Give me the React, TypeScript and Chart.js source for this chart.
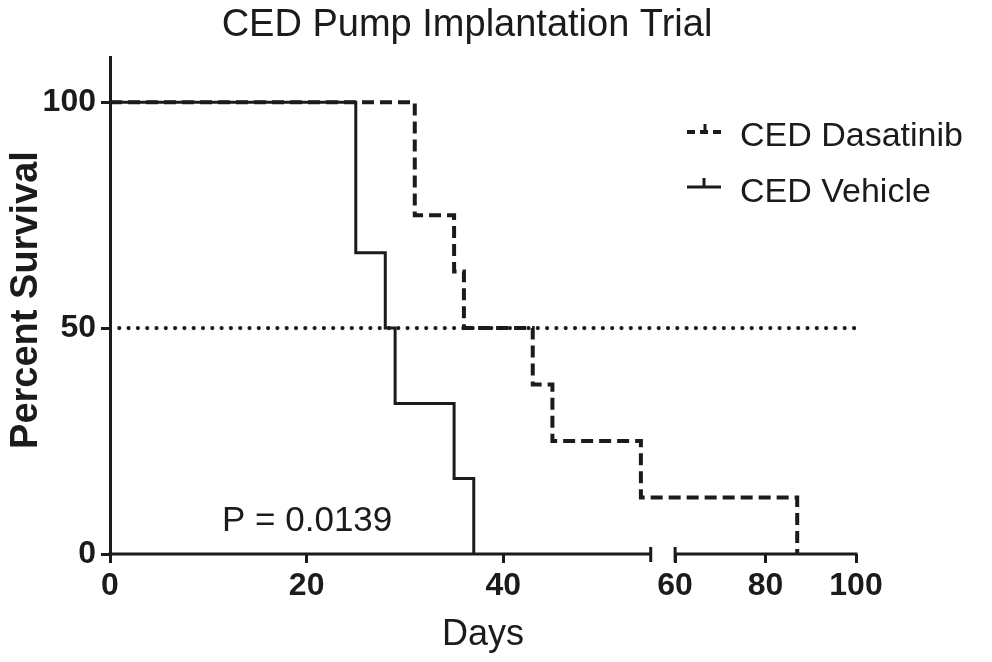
import React, { useEffect, useRef } from "react";
import { Chart, registerables } from "chart.js";

Chart.register(...registerables);

// ---- data (days, percent survival) ----
const vehicleDays = [0, 25, 28, 29, 35, 37];
const vehicleSurvival = [100, 66.7, 50, 33.3, 16.7, 0];
const dasatinibDays = [0, 31, 35, 36, 43, 45, 54, 87];
const dasatinibSurvival = [100, 75, 62.5, 50, 37.5, 25, 12.5, 0];
const xTickDays = [0, 20, 40, 60, 80, 100];
const yTickValues = [0, 50, 100];
const medianLevel = 50;
const seriesNames = ["CED Dasatinib", "CED Vehicle"];
const pValueText = "P = 0.0139";

// ---- broken x axis definition ----
const BREAK_FROM = 55;
const BREAK_TO = 60;
const BREAK_GAP = 2.48;
const SQUEEZE = 0.46;
const X_MAX_DAY = 100;
const Y_MAX = 110;

function toAxis(day: number): number {
  return day <= BREAK_FROM ? day : BREAK_FROM + BREAK_GAP + (day - BREAK_TO) * SQUEEZE;
}

const FONT = '"Liberation Sans", Arial, Helvetica, sans-serif';
const INK = "#1b1b1b";

export default function App() {
  const ref = useRef<HTMLCanvasElement>(null);

  useEffect(() => {
    const canvas = ref.current;
    if (!canvas) return;

    const overlay = {
      id: "overlay",
      afterDraw(chart: any) {
        const ctx = chart.ctx as CanvasRenderingContext2D;
        const xs = chart.scales.x;
        const area = chart.chartArea;
        const bottom = area.bottom;
        ctx.save();
        ctx.strokeStyle = INK;
        ctx.fillStyle = INK;
        ctx.lineWidth = 3;
        ctx.lineCap = "butt";
        // x axis line with break
        const p0 = xs.getPixelForValue(toAxis(0));
        const pA = xs.getPixelForValue(toAxis(BREAK_FROM));
        const pB = xs.getPixelForValue(toAxis(BREAK_TO));
        const pEnd = xs.getPixelForValue(toAxis(X_MAX_DAY));
        ctx.beginPath();
        ctx.moveTo(p0 - 1.5, bottom);
        ctx.lineTo(pA, bottom);
        ctx.moveTo(pB, bottom);
        ctx.lineTo(pEnd + 1.5, bottom);
        ctx.stroke();
        ctx.beginPath();
        ctx.moveTo(pA, bottom - 7);
        ctx.lineTo(pA, bottom + 8);
        ctx.moveTo(pB, bottom - 7);
        ctx.lineTo(pB, bottom + 8);
        ctx.stroke();

        // Title
        ctx.textAlign = "center";
        ctx.textBaseline = "alphabetic";
        ctx.font = `38px ${FONT}`;
        ctx.fillText("CED Pump Implantation Trial", 459, 28);

        // x axis title
        ctx.font = `36px ${FONT}`;
        ctx.fillText("Days", (area.left + area.right) / 2, 637);

        // y axis title
        ctx.save();
        ctx.translate(29, 292);
        ctx.rotate(-Math.PI / 2);
        ctx.font = `bold 38px ${FONT}`;
        ctx.fillText("Percent Survival", 0, 0);
        ctx.restore();

        // P value
        ctx.textAlign = "left";
        ctx.font = `35px ${FONT}`;
        ctx.fillText(pValueText, 214, 523);

        // Legend
        ctx.font = `34px ${FONT}`;
        ctx.fillText(seriesNames[0], 732, 138);
        ctx.fillText(seriesNames[1], 732, 194);
        // dasatinib symbol
        const ly1 = 124;
        ctx.lineWidth = 4;
        ctx.setLineDash([8, 5]);
        ctx.beginPath();
        ctx.moveTo(679, ly1);
        ctx.lineTo(713, ly1);
        ctx.stroke();
        ctx.setLineDash([]);
        ctx.lineWidth = 3;
        ctx.beginPath();
        ctx.moveTo(697, ly1 - 8);
        ctx.lineTo(697, ly1);
        ctx.stroke();
        // vehicle symbol
        const ly2 = 179;
        ctx.beginPath();
        ctx.moveTo(679, ly2);
        ctx.lineTo(713, ly2);
        ctx.moveTo(696, ly2 - 9);
        ctx.lineTo(696, ly2);
        ctx.stroke();
        ctx.restore();
      },
    };

    const chart = new Chart(canvas, {
      type: "line",
      data: {
        datasets: [
          {
            label: seriesNames[0],
            data: dasatinibDays.map((d, i) => ({ x: toAxis(d), y: dasatinibSurvival[i] })),
            borderColor: INK,
            borderWidth: 4,
            borderDash: [12, 6],
            stepped: "before",
            pointRadius: 0,
            fill: false,
            order: 1,
          },
          {
            label: seriesNames[1],
            data: vehicleDays.map((d, i) => ({ x: toAxis(d), y: vehicleSurvival[i] })),
            borderColor: INK,
            borderWidth: 3,
            stepped: "before",
            pointRadius: 0,
            fill: false,
            order: 0,
          },
          {
            label: "median",
            data: [
              { x: toAxis(0), y: medianLevel },
              { x: toAxis(X_MAX_DAY), y: medianLevel },
            ],
            borderColor: INK,
            borderWidth: 4.2,
            borderDash: [0, 9.3],
            borderCapStyle: "round",
            pointRadius: 0,
            fill: false,
            order: 2,
          },
        ],
      } as any,
      options: {
        animation: false,
        responsive: false,
        events: [],
        layout: { padding: { top: 49, right: 128, bottom: 0, left: 0 } },
        plugins: {
          legend: { display: false },
          title: { display: false },
          tooltip: { enabled: false },
        },
        scales: {
          x: {
            type: "linear",
            min: 0,
            max: toAxis(X_MAX_DAY),
            border: { display: false },
            grid: {
              display: true,
              drawOnChartArea: false,
              drawTicks: true,
              tickLength: 9,
              color: INK,
              lineWidth: 3,
            },
            afterBuildTicks: (scale: any) => {
              scale.ticks = xTickDays.map((d) => ({ value: toAxis(d) }));
            },
            afterFit: (scale: any) => {
              scale.height = 100;
            },
            ticks: {
              autoSkip: false,
              maxRotation: 0,
              padding: 4,
              color: INK,
              font: { family: FONT, size: 32, weight: "bold" },
              callback: (_v: any, i: number) => String(xTickDays[i]),
            },
          },
          y: {
            type: "linear",
            min: 0,
            max: Y_MAX,
            border: { display: true, color: INK, width: 3 },
            grid: {
              display: true,
              drawOnChartArea: false,
              drawTicks: true,
              tickLength: 9,
              color: INK,
              lineWidth: 3,
            },
            afterBuildTicks: (scale: any) => {
              scale.ticks = yTickValues.map((v) => ({ value: v }));
            },
            afterFit: (scale: any) => {
              scale.width = 102;
            },
            ticks: {
              autoSkip: false,
              padding: 5,
              color: INK,
              font: { family: FONT, size: 32, weight: "bold" },
              callback: (v: any) => String(v),
            },
          },
        },
      } as any,
      plugins: [overlay],
    });

    return () => chart.destroy();
  }, []);

  return <canvas ref={ref} width={976} height={646} style={{ display: "block" }} />;
}
